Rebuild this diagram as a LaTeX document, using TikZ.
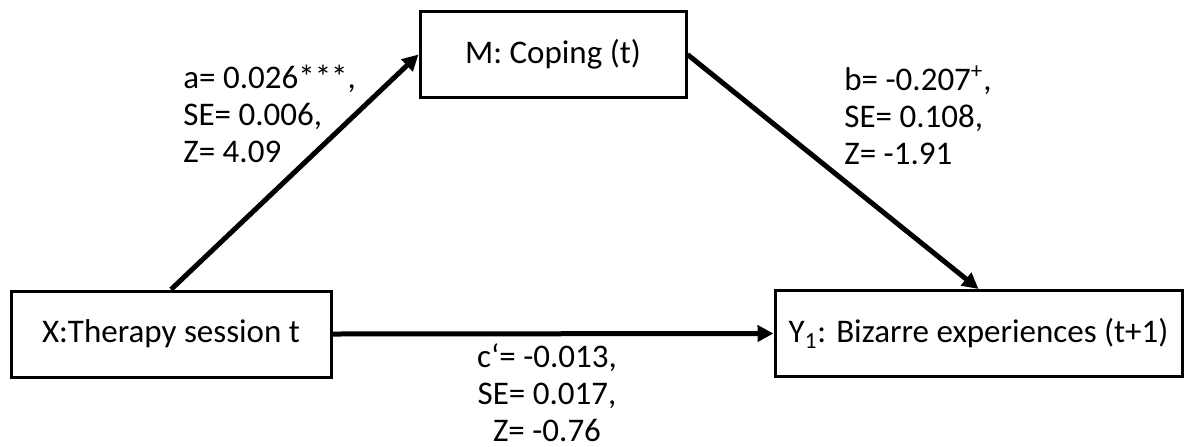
\documentclass[tikz,border=0pt]{standalone}
\usepackage{fontspec}
\setmainfont{Carlito}
\usetikzlibrary{arrows.meta}

\begin{document}
\begin{tikzpicture}[
        x=0.5pt,
        y=-0.5pt,
        every node/.style={font=\fontsize{16.5}{18.5}\selectfont},
        var/.style={
            rectangle,
            draw,
            line width=1.5pt,
            minimum height=43pt,
            inner sep=1pt
        },
        link/.style={
            line width=2.5pt,
            -{Triangle[length=8pt,width=8pt]}
        },
        coef/.style={align=left, inner sep=0pt, anchor=north west}
    ]
    \useasboundingbox (0,0) rectangle (1184,446);

    % Boxes
    \node[var, minimum width=160pt] (x) at (171,334) {X:Therapy session t};
    \node[var, minimum width=133pt] (m) at (553,54.5) {M: Coping (t)};
    \node[var, minimum width=203.5pt] (y) at (978.5,333.5) {Y\textsubscript{1}: Bizarre experiences (t+1)};

    % Paths
    \draw[link] (x.north) -- (m.west);
    \draw[link] (m.east) -- (y.north);
    \draw[link] (x.east) -- (y.west);

    % Coefficients
    \node[coef] (acoef) at (183,65) {a= 0.026***,\\SE= 0.006,\\Z= 4.09};
    \node[coef] (bcoef) at (844,65) {b= -0.207\textsuperscript{+},\\SE= 0.108,\\Z= -1.91};
    \node[coef, align=center, anchor=north] (ccoef) at (547,343) {c‘= -0.013,\\SE= 0.017,\\Z= -0.76};

    \end{tikzpicture}
\end{document}
